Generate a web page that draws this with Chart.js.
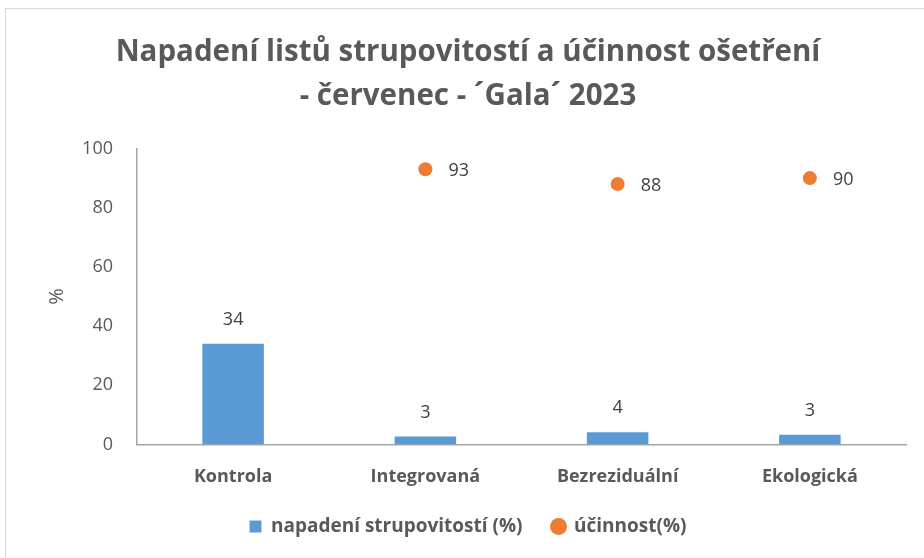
<!DOCTYPE html>
<html>
<head>
<meta charset="utf-8">
<script src="https://cdn.jsdelivr.net/npm/chart.js@4"></script>
<style>
  html, body { margin: 0; padding: 0; background: #fff; }
  #wrap { position: absolute; left: 5px; top: 8px; width: 930px; height: 560px; border: 1px solid #d9d9d9; box-sizing: border-box; }
  #box { position: absolute; left: 0; top: 0; width: 924px; height: 558px; }
</style>
</head>
<body>
<div id="wrap"></div>
<div id="box"><canvas id="myChart" width="924" height="558"></canvas></div>
<script>
'use strict'

// categories and values
const categories = ['Kontrola', 'Integrovaná', 'Bezreziduální', 'Ekologická'];
const infection = [34, 2.7, 4.1, 3.3];      // napadení strupovitostí (%)
const efficacy = [null, 93, 88, 90];         // účinnost(%)
const yTicks = [0, 20, 40, 60, 80, 100];

const GRAY = '#595959';
const FONT = "'Open Sans', 'Noto Sans', sans-serif";

// draws the value labels (Excel style) and the rotated "%" axis title
const valueLabels = {
  id: 'valueLabels',
  afterDatasetsDraw(chart) {
    const ctx = chart.ctx;
    ctx.save();
    ctx.font = '18px ' + FONT;
    ctx.fillStyle = '#404040';
    ctx.textBaseline = 'middle';
    chart.data.datasets.forEach((ds, i) => {
      const meta = chart.getDatasetMeta(i);
      meta.data.forEach((el, j) => {
        const v = ds.data[j];
        if (v === null || v === undefined) return;
        if (ds.type === 'bar') {
          ctx.textAlign = 'center';
          ctx.fillText(Math.round(v), el.x, el.y - 24);
        } else {
          ctx.textAlign = 'left';
          ctx.fillText(Math.round(v), el.x + 23, el.y + 2);
        }
      });
    });
    // y axis title
    const area = chart.chartArea;
    ctx.translate(57, (area.top + area.bottom) / 2);
    ctx.rotate(-Math.PI / 2);
    ctx.textAlign = 'center';
    ctx.fillStyle = GRAY;
    ctx.font = '20px ' + FONT;
    ctx.fillText('%', 0, 0);
    ctx.restore();
  }
};

let config = {
  data: {
    labels: categories,
    datasets: [{
      type: 'bar',
      label: 'napadení strupovitostí (%)',
      data: infection,
      backgroundColor: '#5B9BD5',
      categoryPercentage: 1,
      barPercentage: 0.32,
      order: 2
    },
    {
      type: 'line',
      label: 'účinnost(%)',
      data: efficacy,
      showLine: false,
      pointRadius: 7,
      pointHoverRadius: 7,
      pointStyle: 'circle',
      backgroundColor: '#ED7D31',
      borderColor: '#ED7D31',
      borderWidth: 0,
      order: 1
    }]
  },
  options: {
    responsive: false,
    animation: false,
    layout: { padding: { left: 30, right: 18, top: 30, bottom: 12 } },
    plugins: {
      tooltip: { enabled: false },
      title: {
        display: true,
        text: ['Napadení listů strupovitostí a účinnost ošetření', '- červenec - ´Gala´ 2023'],
        color: GRAY,
        font: { family: FONT, size: 29.5, weight: 'bold', lineHeight: 1.5 },
        padding: { top: 0, bottom: 30 }
      },
      legend: {
        position: 'bottom',
        labels: {
          usePointStyle: true,
          color: GRAY,
          font: { family: FONT, size: 19, weight: 'bold' },
          boxWidth: 12,
          boxHeight: 12,
          padding: 30,
          generateLabels(chart) {
            return chart.data.datasets.map((ds, i) => ({
              text: ds.label,
              fillStyle: ds.backgroundColor,
              strokeStyle: ds.backgroundColor,
              lineWidth: 0,
              pointStyle: ds.type === 'bar' ? 'rect' : 'circle',
              datasetIndex: i,
              fontColor: GRAY
            }));
          }
        }
      }
    },
    scales: {
      x: {
        grid: { display: false },
        border: { display: true, color: '#a6a6a6', width: 1.5 },
        ticks: { color: GRAY, font: { family: FONT, size: 18, weight: 'bold' }, padding: 14 },
        afterFit(axis) { axis.height -= 15; }
      },
      y: {
        min: 0,
        max: 100,
        afterBuildTicks(axis) { axis.ticks = yTicks.map(v => ({ value: v })); },
        grid: { display: false },
        border: { display: true, color: '#a6a6a6', width: 1.5 },
        ticks: { color: GRAY, font: { family: FONT, size: 18 }, padding: 16 },
        afterFit(axis) { axis.width = 107; }
      }
    }
  },
  plugins: [valueLabels]
};

const ctx = document.getElementById('myChart').getContext('2d');
const myChart = new Chart(ctx, config);
</script>
</body>
</html>
